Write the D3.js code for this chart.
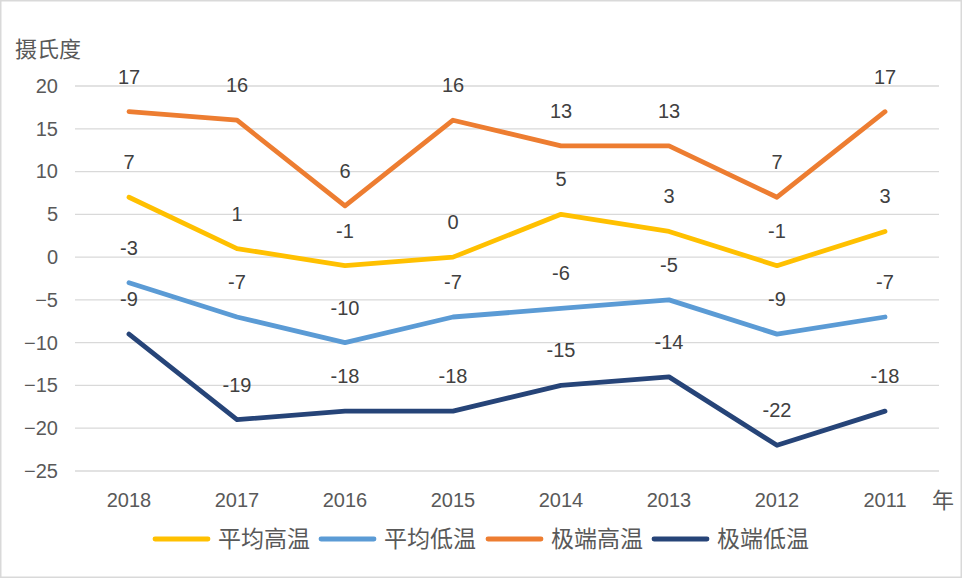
<!DOCTYPE html>
<html><head><meta charset="utf-8">
<script src="https://cdn.jsdelivr.net/npm/d3@7"></script>
<style>body{margin:0;background:#fff}svg{display:block}</style>
</head><body>
<svg id="c" width="962" height="578"></svg>
<script>
const years = ["2018","2017","2016","2015","2014","2013","2012","2011"];
const seriesNames = ["平均高温","平均低温","极端高温","极端低温"];
const avgHigh = [7,1,-1,0,5,3,-1,3];
const avgLow = [-3,-7,-10,-7,-6,-5,-9,-7];
const extHigh = [17,16,6,16,13,13,7,17];
const extLow = [-9,-19,-18,-18,-15,-14,-22,-18];
const yTicks = [20,15,10,5,0,-5,-10,-15,-20,-25];
const colors = ["#FFC000","#5B9BD5","#ED7D31","#264478"];
const seriesData = [avgHigh, avgLow, extHigh, extLow];

const svg = d3.select("#c");
const W = 962, H = 578;
svg.append("rect").attr("x",0.75).attr("y",0.75).attr("width",W-1.5).attr("height",H-1.5)
  .attr("fill","#fff").attr("stroke","#d9d9d9").attr("stroke-width",1.5);

const x = d3.scaleBand().domain(years).range([75,939]);
const y = d3.scaleLinear().domain([-25,20]).range([471,86]);
const textColor = "#595959";
const font = "'Liberation Sans', 'Open Sans', sans-serif";
const cjk = "'Noto Sans CJK SC', sans-serif";

// gridlines
svg.append("g").selectAll("line").data(yTicks).join("line")
  .attr("x1",75).attr("x2",939)
  .attr("y1",d=>y(d)).attr("y2",d=>y(d))
  .attr("stroke","#d9d9d9").attr("stroke-width",1.3);

// y axis labels
const yAxis = d3.axisLeft(y).tickValues(yTicks).tickSize(0).tickPadding(17);
const gy = svg.append("g").attr("transform","translate(75,0)").call(yAxis);
gy.select(".domain").remove();
gy.selectAll("text").attr("font-family",font).attr("font-size",20).attr("fill",textColor);

// x axis labels
const xAxis = d3.axisBottom(x).tickSize(0).tickPadding(22);
const gx = svg.append("g").attr("transform","translate(0,471)").call(xAxis);
gx.select(".domain").remove();
gx.selectAll("text").attr("font-family",font).attr("font-size",20).attr("fill",textColor);

// lines
const line = d3.line().x((d,i)=>x(years[i])+x.bandwidth()/2).y(d=>y(d));
seriesData.forEach((s,k)=>{
  svg.append("path").datum(s).attr("d",line).attr("fill","none")
    .attr("stroke",colors[k]).attr("stroke-width",4.8)
    .attr("stroke-linejoin","round").attr("stroke-linecap","round");
});
// labels
seriesData.forEach((s,k)=>{
  svg.append("g").selectAll("text").data(s).join("text")
    .attr("x",(d,i)=>x(years[i])+x.bandwidth()/2)
    .attr("y",d=>y(d)-35)
    .attr("dy","0.35em")
    .attr("text-anchor","middle")
    .attr("font-family",font).attr("font-size",20).attr("fill","#404040")
    .text(d=>d);
});

// axis titles
svg.append("text").attr("x",15).attr("y",57).attr("font-family",cjk)
  .attr("font-size",22).attr("fill",textColor).text("摄氏度");
svg.append("text").attr("x",932).attr("y",508).attr("font-family",cjk)
  .attr("font-size",22).attr("fill",textColor).text("年");

// legend
const legX = [153, 319, 486, 652];
const lg = svg.append("g");
seriesNames.forEach((n,k)=>{
  lg.append("line").attr("x1",legX[k]+2).attr("x2",legX[k]+55).attr("y1",539).attr("y2",539)
    .attr("stroke",colors[k]).attr("stroke-width",4.8).attr("stroke-linecap","round");
  lg.append("text").attr("x",legX[k]+65).attr("y",539).attr("dy","0.36em")
    .attr("font-family",cjk).attr("font-size",23).attr("fill",textColor).text(n);
});
</script>
</body></html>
